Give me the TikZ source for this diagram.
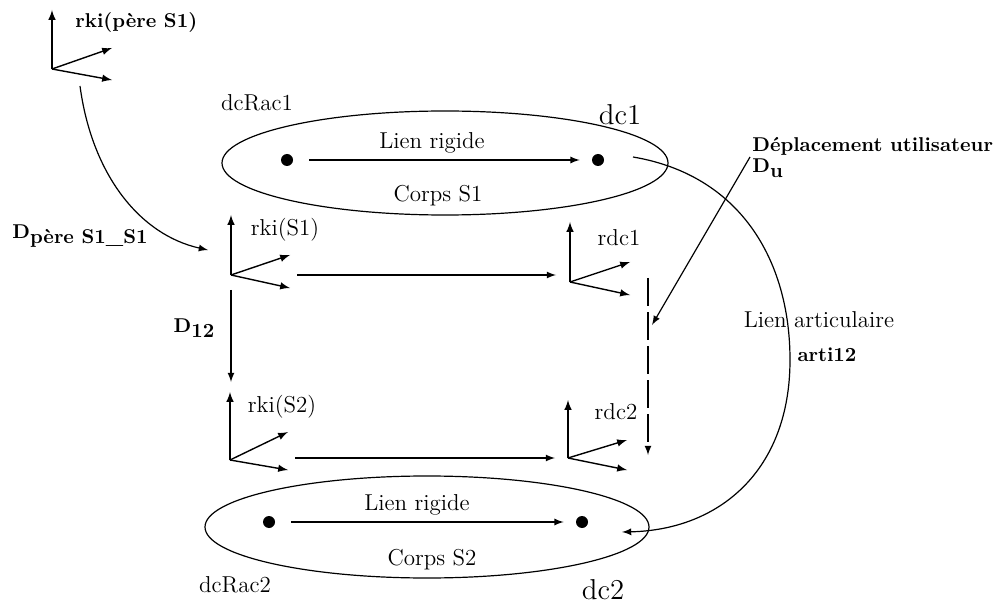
\documentclass[tikz,border=0pt]{standalone}
\usepackage{amsmath, amssymb}
\usepackage{tikz}
\usetikzlibrary{arrows}
\tikzstyle{dot}=[circle, inner sep=0pt, minimum size=6pt, fill=black]
\tikzstyle{axe}=[line width=.7pt, -latex]
\tikzstyle{lien}=[line width=.6pt, -latex]
\tikzstyle{lbl}=[font=\fontsize{11.5}{13}\selectfont, inner sep=1pt]
\tikzstyle{gras}=[font=\bfseries, inner sep=1pt]
\tikzstyle{grand}=[font=\Large, inner sep=1pt]
\newcommand{\dsub}[1]{D\raisebox{-.6ex}{#1}}

\begin{document}
\begin{tikzpicture}[x=.5pt, y=-.5pt]
    \useasboundingbox (0,0) rectangle (1001,604);

    % reperes
    \coordinate (rpere) at (52,69);
    \coordinate (rkiS1) at (231,275);
    \coordinate (rdc1) at (570,282);
    \coordinate (rkiS2) at (230,460);
    \coordinate (rdc2) at (568,458);
    \draw[axe] (rpere) -- ++(0,-59);
    \draw[axe] (rpere) -- ++(60,-21);
    \draw[axe] (rpere) -- ++(60,11);
    \draw[axe] (rkiS1) -- ++(0,-60);
    \draw[axe] (rkiS1) -- ++(59,-20);
    \draw[axe] (rkiS1) -- ++(59,13);
    \draw[axe] (rdc1) -- ++(0,-60);
    \draw[axe] (rdc1) -- ++(60,-20);
    \draw[axe] (rdc1) -- ++(60,13);
    \draw[axe] (rkiS2) -- ++(0,-68);
    \draw[axe] (rkiS2) -- ++(58,-28);
    \draw[axe] (rkiS2) -- ++(58,10);
    \draw[axe] (rdc2) -- ++(0,-58);
    \draw[axe] (rdc2) -- ++(59,-18);
    \draw[axe] (rdc2) -- ++(59,12);

    \node[gras, anchor=west] (lrpere) at (73,22) {rki(p\`ere S1)};
    \node[lbl] (lrkiS1) at (285,230) {rki(S1)};
    \node[lbl] (lrdc1) at (619,238) {rdc1};
    \node[lbl] (lrkiS2) at (282,407) {rki(S2)};
    \node[lbl] (lrdc2) at (616,412) {rdc2};

    % corps S1
    \draw[line width=.6pt] (445,163) ellipse [x radius=223, y radius=52];
    \node[dot] (dcrac1) at (287,160) {};
    \node[dot] (dc1) at (598,160) {};
    \draw[lien, shorten <=8pt, shorten >=6pt] (dcrac1) -- (dc1);
    \node[lbl] (lien1) at (432,143) {Lien rigide};
    \node[lbl] (corps1) at (438,196) {Corps S1};
    \node[lbl] (ldcrac1) at (257,103) {dcRac1};
    \node[grand] (ldc1) at (620,115) {dc1};

    % corps S2
    \draw[line width=.6pt] (427,527) ellipse [x radius=222, y radius=51];
    \node[dot] (dcrac2) at (269,522) {};
    \node[dot] (dc2) at (582,522) {};
    \draw[lien, shorten <=8pt, shorten >=6pt] (dcrac2) -- (dc2);
    \node[lbl] (lien2) at (417,505) {Lien rigide};
    \node[lbl] (corps2) at (432,560) {Corps S2};
    \node[lbl] (ldcrac2) at (235,585) {dcRac2};
    \node[grand] (ldc2) at (603,590) {dc2};

    % deplacements
    \coordinate (dpA) at (80,86);
    \coordinate (dpB) at (208,250);
    \draw[lien] (dpA) .. controls (92,175) and (140,235) .. (dpB);
    \node[gras, anchor=west] (ldpere) at (10,236) {\dsub{p\`ere S1\_S1}};

    \coordinate (hA) at (297,275);
    \coordinate (hB) at (556,275);
    \draw[lien] (hA) -- (hB);
    \coordinate (bA) at (295,458);
    \coordinate (bB) at (555,458);
    \draw[lien] (bA) -- (bB);

    \coordinate (d12A) at (231,290);
    \coordinate (d12B) at (231,382);
    \draw[lien] (d12A) -- (d12B);
    \node[gras] (ld12) at (194,328) {\dsub{12}};

    \coordinate (pA) at (648,278);
    \coordinate (pB) at (648,455);
    \draw[lien, dash pattern=on 14pt off 3pt] (pA) -- (pB);

    \coordinate (duA) at (750,157);
    \coordinate (duB) at (652,325);
    \draw[lien] (duA) -- (duB);
    \node[gras, anchor=west] (ldep) at (750,146) {D\'eplacement utilisateur};
    \node[gras, anchor=west] (ldu) at (750,168) {\dsub{u}};

    % lien articulaire
    \coordinate (aA) at (633,157);
    \coordinate (aM) at (790,360);
    \coordinate (aB) at (622,532);
    \draw[lien] (aA) .. controls (740,175) and (790,260) .. (aM)
        .. controls (790,470) and (720,530) .. (aB);
    \node[lbl] (larti) at (819,320) {Lien articulaire};
    \node[gras] (larti12) at (827,355) {arti12};
\end{tikzpicture}
\end{document}
